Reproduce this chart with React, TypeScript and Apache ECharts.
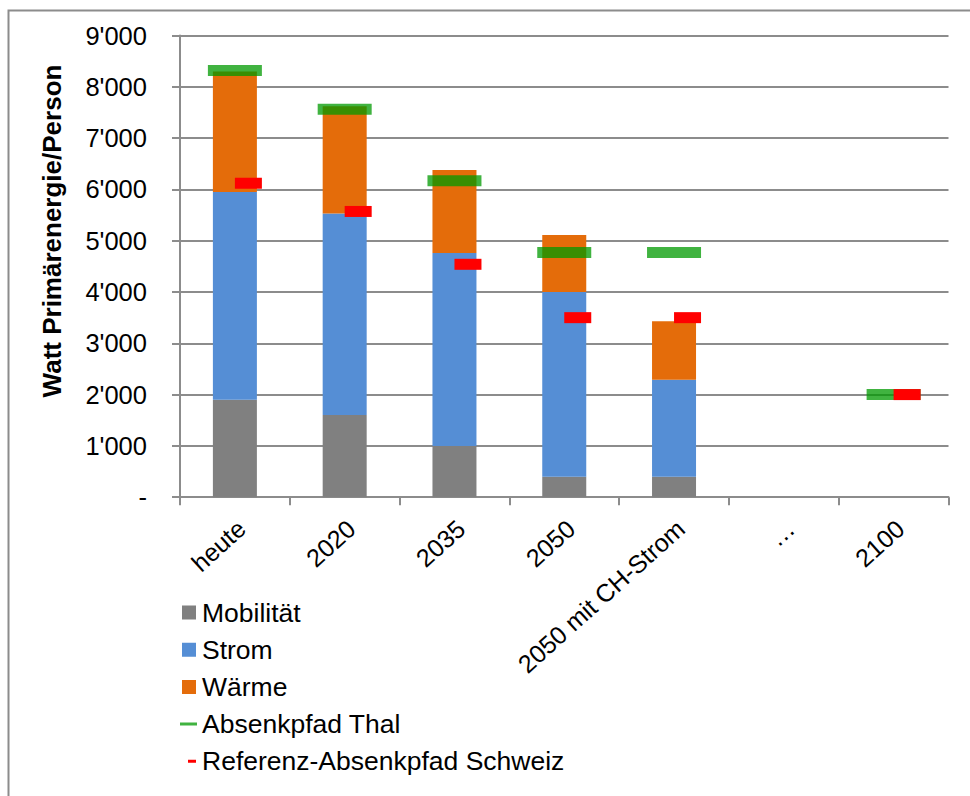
import React, { useEffect, useRef } from "react";
import * as echarts from "echarts";

const categories = ["heute", "2020", "2035", "2050", "2050 mit CH-Strom", "…", "2100"];
const mobilitaet = [1900, 1600, 1000, 400, 400, null, null];
const strom = [4050, 3930, 3760, 3600, 1890, null, null];
const waerme = [2350, 2090, 1620, 1110, 1140, null, null];
const absenkpfadThal = [8320, 7560, 6170, 4770, 4770, null, 2000];
const referenzSchweiz = [6120, 5570, 4540, 3500, 3500, null, 2000];

const FONT = "'Liberation Sans', Arial, sans-serif";
const GRID_COLOR = "#8c8c8c";

export default function App() {
  const ref = useRef<HTMLDivElement>(null);
  useEffect(() => {
    if (!ref.current) return;
    const chart = echarts.init(ref.current, undefined, { renderer: "svg" });
    const fmt = (v: number) => {
      if (v === 0) return "-";
      const s = String(Math.round(v));
      return s.replace(/\B(?=(\d{3})+(?!\d))/g, "'");
    };
    const sq = "path://M0,0h0.01v0.01z M2,0h14v14h-14z M17,14h-0.01v-0.01z";
    const greenIcon = "path://M0,0h0.01v0.01z M0,5.5h17v3h-17z M17,14h-0.01v-0.01z";
    const redIcon = "path://M0,0h0.01v0.01z M8,5.5h8v3h-8z M17,14h-0.01v-0.01z";
    chart.setOption({
      animation: false,
      backgroundColor: "#ffffff",
      textStyle: { fontFamily: FONT },
      grid: { left: 180, right: 21.5, top: 35.5, bottom: 298.8, containLabel: false },
      xAxis: {
        type: "category",
        data: categories,
        axisLine: { show: true, lineStyle: { color: GRID_COLOR, width: 2 } },
        axisTick: { show: true, length: 8, lineStyle: { color: GRID_COLOR, width: 2 } },
        axisLabel: {
          interval: 0,
          rotate: 42,
          margin: 20,
          fontSize: 25,
          lineHeight: 20,
          verticalAlign: "top",
          color: "#000",
          fontFamily: FONT,
        },
      },
      yAxis: {
        type: "value",
        min: 0,
        max: 9000,
        interval: 1000,
        axisLine: { show: true, lineStyle: { color: GRID_COLOR, width: 2 } },
        axisTick: { show: true, length: 8, lineStyle: { color: GRID_COLOR, width: 2 } },
        splitLine: { show: true, lineStyle: { color: GRID_COLOR, width: 2 } },
        axisLabel: { margin: 33, fontSize: 25.5, color: "#000", fontFamily: FONT, formatter: fmt },
      },
      legend: {
        orient: "vertical",
        left: 180,
        top: 599,
        padding: 0,
        itemWidth: 17,
        itemHeight: 14,
        itemGap: 10.2,
        textStyle: { fontSize: 26.5, color: "#000", fontFamily: FONT },
        data: [
          { name: "Mobilität", icon: sq },
          { name: "Strom", icon: sq },
          { name: "Wärme", icon: sq },
          { name: "Absenkpfad Thal", icon: greenIcon },
          { name: "Referenz-Absenkpfad Schweiz", icon: redIcon },
        ],
      },
      graphic: [
        {
          type: "rect",
          left: 6,
          top: 8,
          silent: true,
          shape: { x: 0, y: 0, width: 1000, height: 1000 },
          style: { fill: "none", stroke: GRID_COLOR, lineWidth: 2 },
        },
        {
          type: "text",
          x: 52,
          y: 231,
          rotation: Math.PI / 2,
          style: {
            text: "Watt Primärenergie/Person",
            fontSize: 26,
            fontWeight: "bold",
            fontFamily: FONT,
            fill: "#000",
            align: "center",
            verticalAlign: "middle",
          },
        },
      ],
      series: [
        { name: "Mobilität", type: "bar", stack: "total", barWidth: 44, data: mobilitaet, itemStyle: { color: "#808080" } },
        { name: "Strom", type: "bar", stack: "total", barWidth: 44, data: strom, itemStyle: { color: "#558ED5" } },
        { name: "Wärme", type: "bar", stack: "total", barWidth: 44, data: waerme, itemStyle: { color: "#E46C0A" } },
        {
          name: "Absenkpfad Thal",
          type: "scatter",
          symbol: "rect",
          symbolSize: [54, 11],
          data: absenkpfadThal,
          itemStyle: { color: "rgba(0,153,0,0.75)", opacity: 1 },
          z: 5,
        },
        {
          name: "Referenz-Absenkpfad Schweiz",
          type: "scatter",
          symbol: "rect",
          symbolSize: [27, 11],
          symbolOffset: [13.5, 0],
          data: referenzSchweiz,
          itemStyle: { color: "#ff0000", opacity: 1 },
          z: 6,
        },
      ],
    });
    return () => chart.dispose();
  }, []);
  return <div ref={ref} style={{ position: "absolute", left: 0, top: 0, width: 970, height: 796 }} />;
}
